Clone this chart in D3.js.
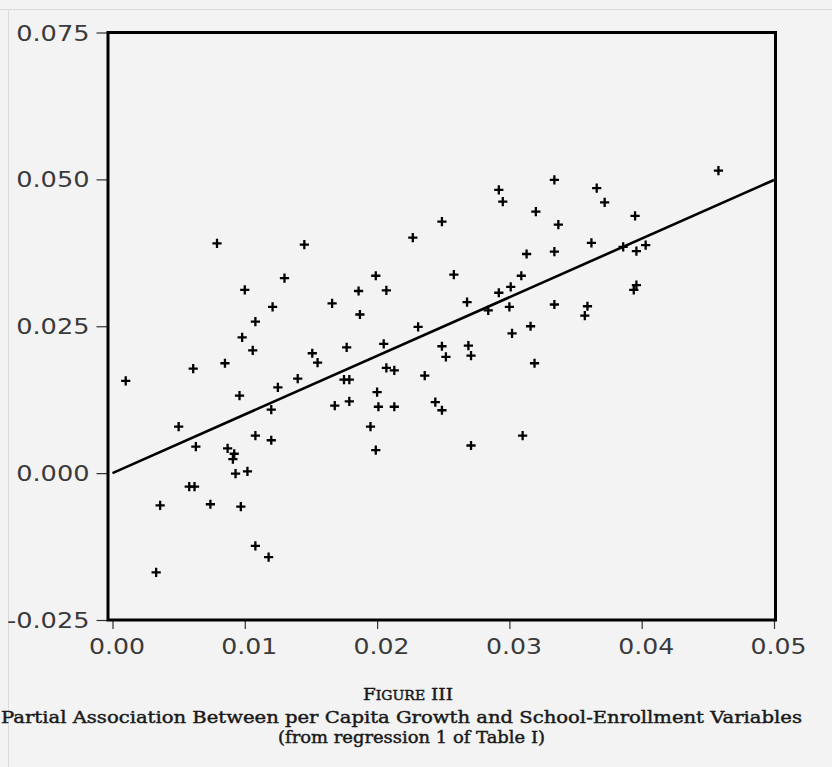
<!DOCTYPE html>
<html>
<head>
<meta charset="utf-8">
<script src="https://cdn.jsdelivr.net/npm/d3@7"></script>
<style>
  body { margin: 0; background: #f3f3f3; }
  svg { display: block; }
</style>
</head>
<body>
<svg id="chart" width="832" height="767"></svg>
<script>
// ── Data ───────────────────────────────────────────
// x: school-enrollment partial residual, y: per capita growth partial residual
const enrollX = [
  0.0010, 0.0061, 0.0085, 0.0100, 0.0130, 0.0121, 0.0108, 0.0098, 0.0106, 0.0096,
  0.0125, 0.0140, 0.0120, 0.0050, 0.0063, 0.0108, 0.0120, 0.0087, 0.0092, 0.0091,
  0.0093, 0.0102, 0.0058, 0.0062, 0.0036, 0.0074, 0.0097, 0.0108, 0.0118, 0.0033,
  0.0079, 0.0145, 0.0151, 0.0155, 0.0166, 0.0168, 0.0175, 0.0179, 0.0177, 0.0179,
  0.0186, 0.0187, 0.0199, 0.0207, 0.0205, 0.0207, 0.0213, 0.0200, 0.0201, 0.0213,
  0.0195, 0.0199, 0.0227, 0.0231, 0.0236, 0.0244, 0.0249, 0.0249, 0.0249, 0.0252,
  0.0258, 0.0268, 0.0269, 0.0271, 0.0271, 0.0284, 0.0292, 0.0292, 0.0295, 0.0300,
  0.0301, 0.0302, 0.0309, 0.0310, 0.0313, 0.0316, 0.0319, 0.0320, 0.0334, 0.0334,
  0.0334, 0.0337, 0.0366, 0.0372, 0.0395, 0.0362, 0.0386, 0.0396, 0.0403, 0.0458,
  0.0394, 0.0396, 0.0359, 0.0357
];
const growthY = [
  0.0157, 0.0178, 0.0187, 0.0312, 0.0332, 0.0283, 0.0258, 0.0231, 0.0209, 0.0132,
  0.0146, 0.0161, 0.0108, 0.0079, 0.0045, 0.0064, 0.0056, 0.0042, 0.0033, 0.0024,
  -0.0001, 0.0003, -0.0023, -0.0023, -0.0055, -0.0053, -0.0057, -0.0124, -0.0143, -0.0169,
  0.0391, 0.0389, 0.0204, 0.0188, 0.0289, 0.0115, 0.0159, 0.0159, 0.0214, 0.0122,
  0.0310, 0.0270, 0.0336, 0.0311, 0.0220, 0.0179, 0.0175, 0.0138, 0.0113, 0.0113,
  0.0079, 0.0039, 0.0401, 0.0249, 0.0166, 0.0121, 0.0107, 0.0428, 0.0216, 0.0198,
  0.0338, 0.0291, 0.0217, 0.0200, 0.0047, 0.0277, 0.0307, 0.0482, 0.0462, 0.0283,
  0.0317, 0.0238, 0.0336, 0.0064, 0.0373, 0.0250, 0.0187, 0.0445, 0.0499, 0.0377,
  0.0287, 0.0423, 0.0485, 0.0461, 0.0438, 0.0392, 0.0385, 0.0378, 0.0388, 0.0515,
  0.0312, 0.0320, 0.0284, 0.0268
];

// fitted regression line endpoints
const fitX = [0.00, 0.05];
const fitY = [0.0000, 0.0499];

const xTicks = [0.00, 0.01, 0.02, 0.03, 0.04, 0.05];
const xTickLabels = ["0.00", "0.01", "0.02", "0.03", "0.04", "0.05"];
const yTicks = [0.075, 0.050, 0.025, 0.000, -0.025];
const yTickLabels = ["0.075", "0.050", "0.025", "0.000", "-0.025"];

const figureLabel = "III";
const captionTitle = "Partial Association Between per Capita Growth and School-Enrollment Variables";
const captionNote = "(from regression 1 of Table I)";

// ── Layout ──────────────────────────────
const svg = d3.select('#chart');
const x = d3.scaleLinear().domain([0, 0.05]).range([112.5, 774]);
const y = d3.scaleLinear().domain([-0.025, 0.075]).range([620, 32.5]);

const frameL = x(0) - 4.5, frameR = x(0.05) + 1.5;
const frameT = y(0.075), frameB = y(-0.025);

// paper background + faint scan edges
svg.append('rect').attr('width', 832).attr('height', 767).attr('fill', '#f3f3f3');
svg.append('line').attr('x1', 0).attr('x2', 832).attr('y1', 9.5).attr('y2', 9.5)
  .attr('stroke', '#dadada').attr('stroke-width', 1);
svg.append('line').attr('x1', 8.5).attr('x2', 8.5).attr('y1', 9.5).attr('y2', 767)
  .attr('stroke', '#dadada').attr('stroke-width', 1);

// stretch glyphs a bit — the original uses a wide sans
function widen(sel, k) {
  sel.each(function() {
    const w = this.getComputedTextLength();
    d3.select(this).attr('textLength', w * k).attr('lengthAdjust', 'spacingAndGlyphs');
  });
}

// ── Axes ──────────────────────────────
const yAxis = d3.axisLeft(y)
  .tickValues(yTicks)
  .tickSize(11.5)
  .tickPadding(7)
  .tickFormat((d, i) => yTickLabels[i]);

const gy = svg.append('g')
  .attr('transform', `translate(${frameL},0)`)
  .call(yAxis);
gy.select('.domain').remove();
gy.selectAll('.tick line').attr('stroke', '#333').attr('stroke-width', 1.2);
gy.selectAll('.tick text')
  .attr('fill', '#3a3a3a')
  .style('font-family', '"DejaVu Sans", sans-serif')
  .style('font-size', '21px')
  .attr('dy', '0.36em')
  .call(widen, 1.22);

const xAxis = d3.axisBottom(x)
  .tickValues(xTicks)
  .tickSize(9)
  .tickPadding(10)
  .tickFormat((d, i) => xTickLabels[i]);

const gx = svg.append('g')
  .attr('transform', `translate(0,${frameB})`)
  .call(xAxis);
gx.select('.domain').remove();
gx.selectAll('.tick line').attr('stroke', '#333').attr('stroke-width', 1.2);
gx.selectAll('.tick text')
  .attr('fill', '#3a3a3a')
  .attr('dx', 4)
  .style('font-family', '"DejaVu Sans", sans-serif')
  .style('font-size', '21.5px')
  .call(widen, 1.17);

// ── Regression line ─────────────────────
const fitPts = fitX.map((v, i) => [v, fitY[i]]);
svg.append('path')
  .datum(fitPts)
  .attr('d', d3.line().x(d => x(d[0])).y(d => y(d[1])))
  .attr('fill', 'none')
  .attr('stroke', '#000')
  .attr('stroke-width', 2.6);

// ── Points (plus markers) ───────────────
const PLUS = 'M-4.6,0H4.6M0,-4.6V4.6';
svg.append('g')
  .selectAll('path')
  .data(enrollX.map((v, i) => [v, growthY[i]]))
  .join('path')
  .attr('transform', d => `translate(${x(d[0])},${y(d[1])})`)
  .attr('d', PLUS)
  .attr('stroke', '#000')
  .attr('stroke-width', 2.3)
  .attr('fill', 'none');

// ── Frame ─────────────────────────────
svg.append('rect')
  .attr('x', frameL).attr('y', frameT)
  .attr('width', frameR - frameL).attr('height', frameB - frameT)
  .attr('fill', 'none')
  .attr('stroke', '#000')
  .attr('stroke-width', 3);

// ── Caption ───────────────────────────
const cap = svg.append('g')
  .attr('fill', '#1a1a1a')
  .attr('stroke', '#1a1a1a')
  .attr('stroke-width', 0.45)
  .style('font-family', '"DejaVu Serif", serif');

const fig = cap.append('text')
  .attr('x', 408).attr('y', 700)
  .attr('text-anchor', 'middle')
  .attr('textLength', 90).attr('lengthAdjust', 'spacingAndGlyphs');
fig.append('tspan').style('font-size', '16.5px').text('F');
fig.append('tspan').style('font-size', '12.5px').text('IGURE');
fig.append('tspan').style('font-size', '16.5px').text(' ' + figureLabel);

cap.append('text')
  .attr('x', 401.5).attr('y', 723)
  .attr('text-anchor', 'middle')
  .style('font-size', '16.5px')
  .attr('textLength', 801).attr('lengthAdjust', 'spacingAndGlyphs')
  .text(captionTitle);

cap.append('text')
  .attr('x', 411.5).attr('y', 743)
  .attr('text-anchor', 'middle')
  .style('font-size', '16.5px')
  .attr('textLength', 267).attr('lengthAdjust', 'spacingAndGlyphs')
  .text(captionNote);
</script>
</body>
</html>
